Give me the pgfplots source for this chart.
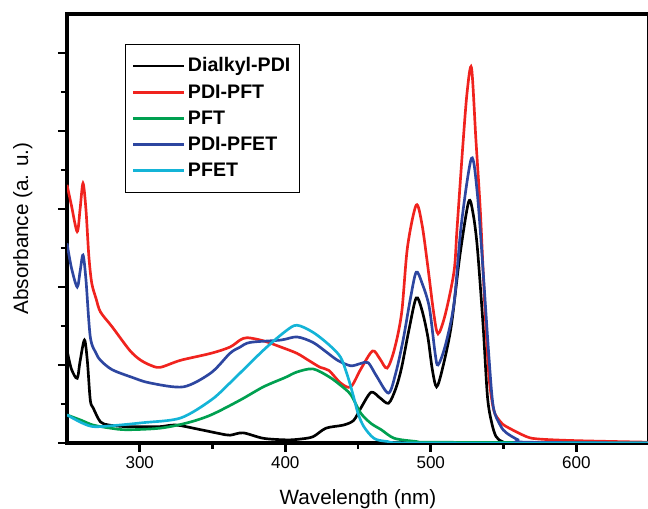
\documentclass[border=0pt]{standalone}
\usepackage{pgfplots}
\pgfplotsset{compat=1.18}
\usepackage{fontspec}
\setmainfont{Liberation Sans}

\definecolor{cred}{RGB}{240,35,30}
\definecolor{cgreen}{RGB}{0,160,80}
\definecolor{cblue}{RGB}{45,70,160}
\definecolor{ccyan}{RGB}{20,180,215}

\begin{document}
\begin{tikzpicture}
\useasboundingbox (-50.25pt,-49.5pt) rectangle (435.75pt,332.25pt);
\begin{axis}[
    scale only axis,
    width=436.5pt, height=321.75pt,
    xmin=250, xmax=650, ymin=0, ymax=5.5,
    xtick={300,400,500,600}, minor x tick num=1,
    ytick={0,1,2,3,4,5}, minor y tick num=1, yticklabels={},
    tick pos=left, tick align=outside,
    major tick length=6.75pt, minor tick length=4.5pt,
    every tick/.style={black, line width=2pt},
    axis line style={line width=2.4pt},
    /pgf/number format/assume math mode=true,
    xticklabel style={font=\fontsize{12.8}{15}\selectfont},
    xlabel={Wavelength (nm)},
    ylabel={Absorbance (a. u.)},
    label style={font=\fontsize{15.5}{18}\selectfont},
    xlabel style={at={(axis description cs:0.5,-0.1445)}, anchor=base},
    ylabel style={at={(axis description cs:-0.0669,0.5)}, anchor=base},
    legend cell align=left,
    legend style={at={(axis description cs:0.0995,0.930)}, anchor=north west,
        draw=black, line width=0.6pt,
        font=\bfseries\fontsize{14.7}{17}\selectfont,
        inner xsep=5pt, inner ysep=8pt, row sep=4pt},
    legend image code/.code={\draw[#1, line width=2pt] (0pt,0pt) -- (38pt,0pt);},
    every axis plot/.append style={line width=2pt, smooth, tension=0.5},
]
\addplot[black] table {
x y
250 1.19
253 0.95
257 0.83
259 1.05
262 1.32
264 1.05
266 0.55
268 0.45
273 0.27
279 0.23
290 0.21
300 0.21
314 0.21
325 0.23
342 0.17
355 0.12
362 0.10
371 0.13
385 0.06
401 0.04
410 0.05
419 0.08
428 0.19
440 0.23
447 0.29
452 0.45
459 0.65
465 0.58
471 0.51
476 0.70
480 0.97
485 1.45
490 1.86
494 1.70
498 1.36
501 0.95
504 0.72
508 0.95
514 1.49
520 2.40
526 3.09
529 2.95
532 2.51
536 1.50
539 0.59
542 0.25
545 0.08
550 0.01
560 0.00
650 0.00
};
\addlegendentry{Dialkyl-PDI}
\addplot[cred] table {
x y
250 3.31
253 3.05
257 2.71
259 3.00
261 3.33
263 3.00
265 2.40
267 2.05
270 1.85
273 1.68
281 1.49
293 1.19
300 1.07
307 1.00
314 0.97
328 1.06
349 1.15
362 1.23
369 1.32
374 1.35
385 1.31
397 1.23
408 1.15
416 1.06
424 0.97
430 0.93
438 0.77
445 0.72
452 0.95
460 1.18
465 1.08
470 0.96
475 1.20
480 1.67
484 2.51
490 3.05
494 2.80
498 2.26
502 1.67
505 1.40
510 1.65
516 2.20
518 2.73
522 3.80
525 4.50
528 4.81
531 3.90
534 3.00
536 2.20
538 1.45
540 0.85
542 0.55
544 0.38
548 0.27
552 0.21
566 0.08
575 0.05
600 0.03
650 0.01
};
\addlegendentry{PDI-PFT}
\addplot[cgreen] table {
x y
250 0.36
260 0.29
268 0.23
280 0.19
291 0.17
314 0.19
333 0.26
349 0.36
369 0.55
385 0.72
400 0.84
408 0.91
419 0.95
430 0.85
438 0.74
445 0.62
452 0.38
459 0.25
466 0.17
475 0.06
490 0.02
500 0.01
650 0.00
};
\addlegendentry{PFT}
\addplot[cblue] table {
x y
250 2.56
253 2.25
257 2.00
259 2.20
261 2.41
263 2.10
266 1.36
270 1.15
273 1.06
281 0.94
295 0.84
307 0.77
330 0.72
349 0.90
362 1.15
369 1.23
376 1.29
397 1.32
408 1.36
419 1.29
428 1.17
436 1.06
445 0.99
452 1.02
457 1.03
463 0.85
471 0.64
476 0.90
481 1.32
486 1.85
490 2.19
494 2.05
499 1.74
503 1.15
505 1.00
510 1.25
516 1.79
521 2.80
528 3.65
532 3.20
536 2.20
540 1.10
543 0.46
548 0.22
552 0.13
560 0.04
566 0.01
650 0.00
};
\addlegendentry{PDI-PFET}
\addplot[ccyan] table {
x y
250 0.36
260 0.26
268 0.21
280 0.22
302 0.26
328 0.32
349 0.55
362 0.77
385 1.19
400 1.43
408 1.51
419 1.42
430 1.26
438 1.10
443 0.85
447 0.59
450 0.38
454 0.21
461 0.06
470 0.02
490 0.00
650 0.00
};
\addlegendentry{PFET}
\end{axis}
\end{tikzpicture}
\end{document}
